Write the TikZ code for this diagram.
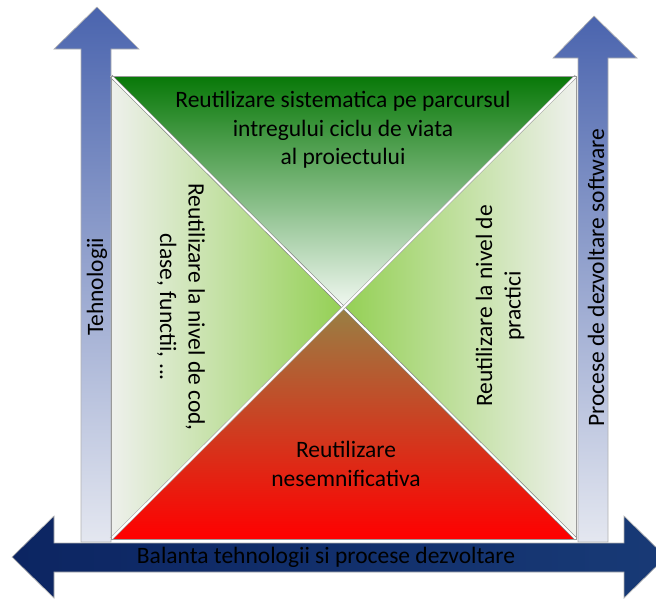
\documentclass[tikz,border=0pt]{standalone}
\usepackage{fontspec}
\setmainfont{Carlito}
\usetikzlibrary{positioning}

\definecolor{albastruSus}{RGB}{74,100,174}
\definecolor{albastruJos}{RGB}{228,231,240}
\definecolor{bleumarin}{RGB}{12,37,98}
\definecolor{bleumarinD}{RGB}{24,58,118}
\definecolor{albastruMijloc}{RGB}{232,234,240}
\definecolor{verdeInchis}{RGB}{8,120,8}
\definecolor{verdePal}{RGB}{242,248,242}
\definecolor{verdeCrud}{RGB}{148,208,84}
\definecolor{griPal}{RGB}{238,240,236}
\definecolor{maslin}{RGB}{152,128,68}
\definecolor{caramiziu}{RGB}{210,70,36}
\definecolor{rosuAprins}{RGB}{255,0,0}

\begin{document}
\begin{tikzpicture}[x=1pt,y=-1pt,
	eticheta/.style={font=\fontsize{23.5}{28.5}\selectfont, align=center, inner sep=0pt},
	sageata/.style={draw=gray!60, line width=0.7pt},
	separator/.style={white, line width=2pt}]
	\useasboundingbox (0,0) rectangle (656,598);
	
	% colturile patratului si centrul
	\coordinate (ss) at (111,76);
	\coordinate (sd) at (576,76);
	\coordinate (js) at (111,539);
	\coordinate (jd) at (576,539);
	\coordinate (c) at (343.5,307.5);
	
	% sagetile verticale
	\shade[sageata, top color=albastruSus, bottom color=albastruJos]
		(81,542) -- (81,49) -- (54,49) -- (97,7) -- (139,49) -- (111,49) -- (111,542) -- cycle;
	\shade[sageata, top color=albastruSus, bottom color=albastruJos]
		(578,542) -- (578,58) -- (553,58) -- (594,16) -- (637,58) -- (608,58) -- (608,542) -- cycle;
	
	% sageata dubla orizontala
	\shade[sageata, left color=bleumarin, middle color=albastruMijloc, right color=bleumarinD]
		(12,557) -- (54,516) -- (54,543) -- (624,543) -- (624,516) -- (666,557)
		-- (624,598) -- (624,572) -- (54,572) -- (54,598) -- cycle;
	
	% cele patru triunghiuri
	\shade[top color=verdeInchis, bottom color=verdePal] (ss) -- (sd) -- (c) -- cycle;
	\shade[left color=griPal, right color=verdeCrud] (ss) -- (c) -- (js) -- cycle;
	\shade[left color=verdeCrud, right color=griPal] (sd) -- (c) -- (jd) -- cycle;
	\shade[top color=maslin, middle color=caramiziu, bottom color=rosuAprins] (js) -- (c) -- (jd) -- cycle;
	
	% diagonalele albe
	\draw[gray, line width=3.2pt] (ss) -- (jd);
	\draw[separator] (ss) -- (jd);
	\draw[gray!70, line width=3.2pt] (sd) -- (js);
	\draw[separator] (sd) -- (js);
	\draw[gray!80, line width=0.8pt] (ss) rectangle (jd);
	
	% texte
	\node[eticheta] (sistematic) at (343,130) {Reutilizare sistematica pe parcursul\\intregului ciclu de viata\\al proiectului};
	\node[eticheta, rotate=-90] (cod) at (181,307) {Reutilizare la nivel de cod,\\clase, functii, ...};
	\node[eticheta, rotate=90] (practici) at (500,306) {Reutilizare la nivel de\\practici};
	\node[eticheta] (nesemn) at (346,464) {Reutilizare\\nesemnificativa};
	\node[eticheta, rotate=90] (tehno) at (97,287) {Tehnologii};
	\node[eticheta, rotate=90] (procese) at (596,278) {Procese de dezvoltare software};
	\node[eticheta] (balanta) at (326,557) {Balanta tehnologii si procese dezvoltare};
\end{tikzpicture}
\end{document}
